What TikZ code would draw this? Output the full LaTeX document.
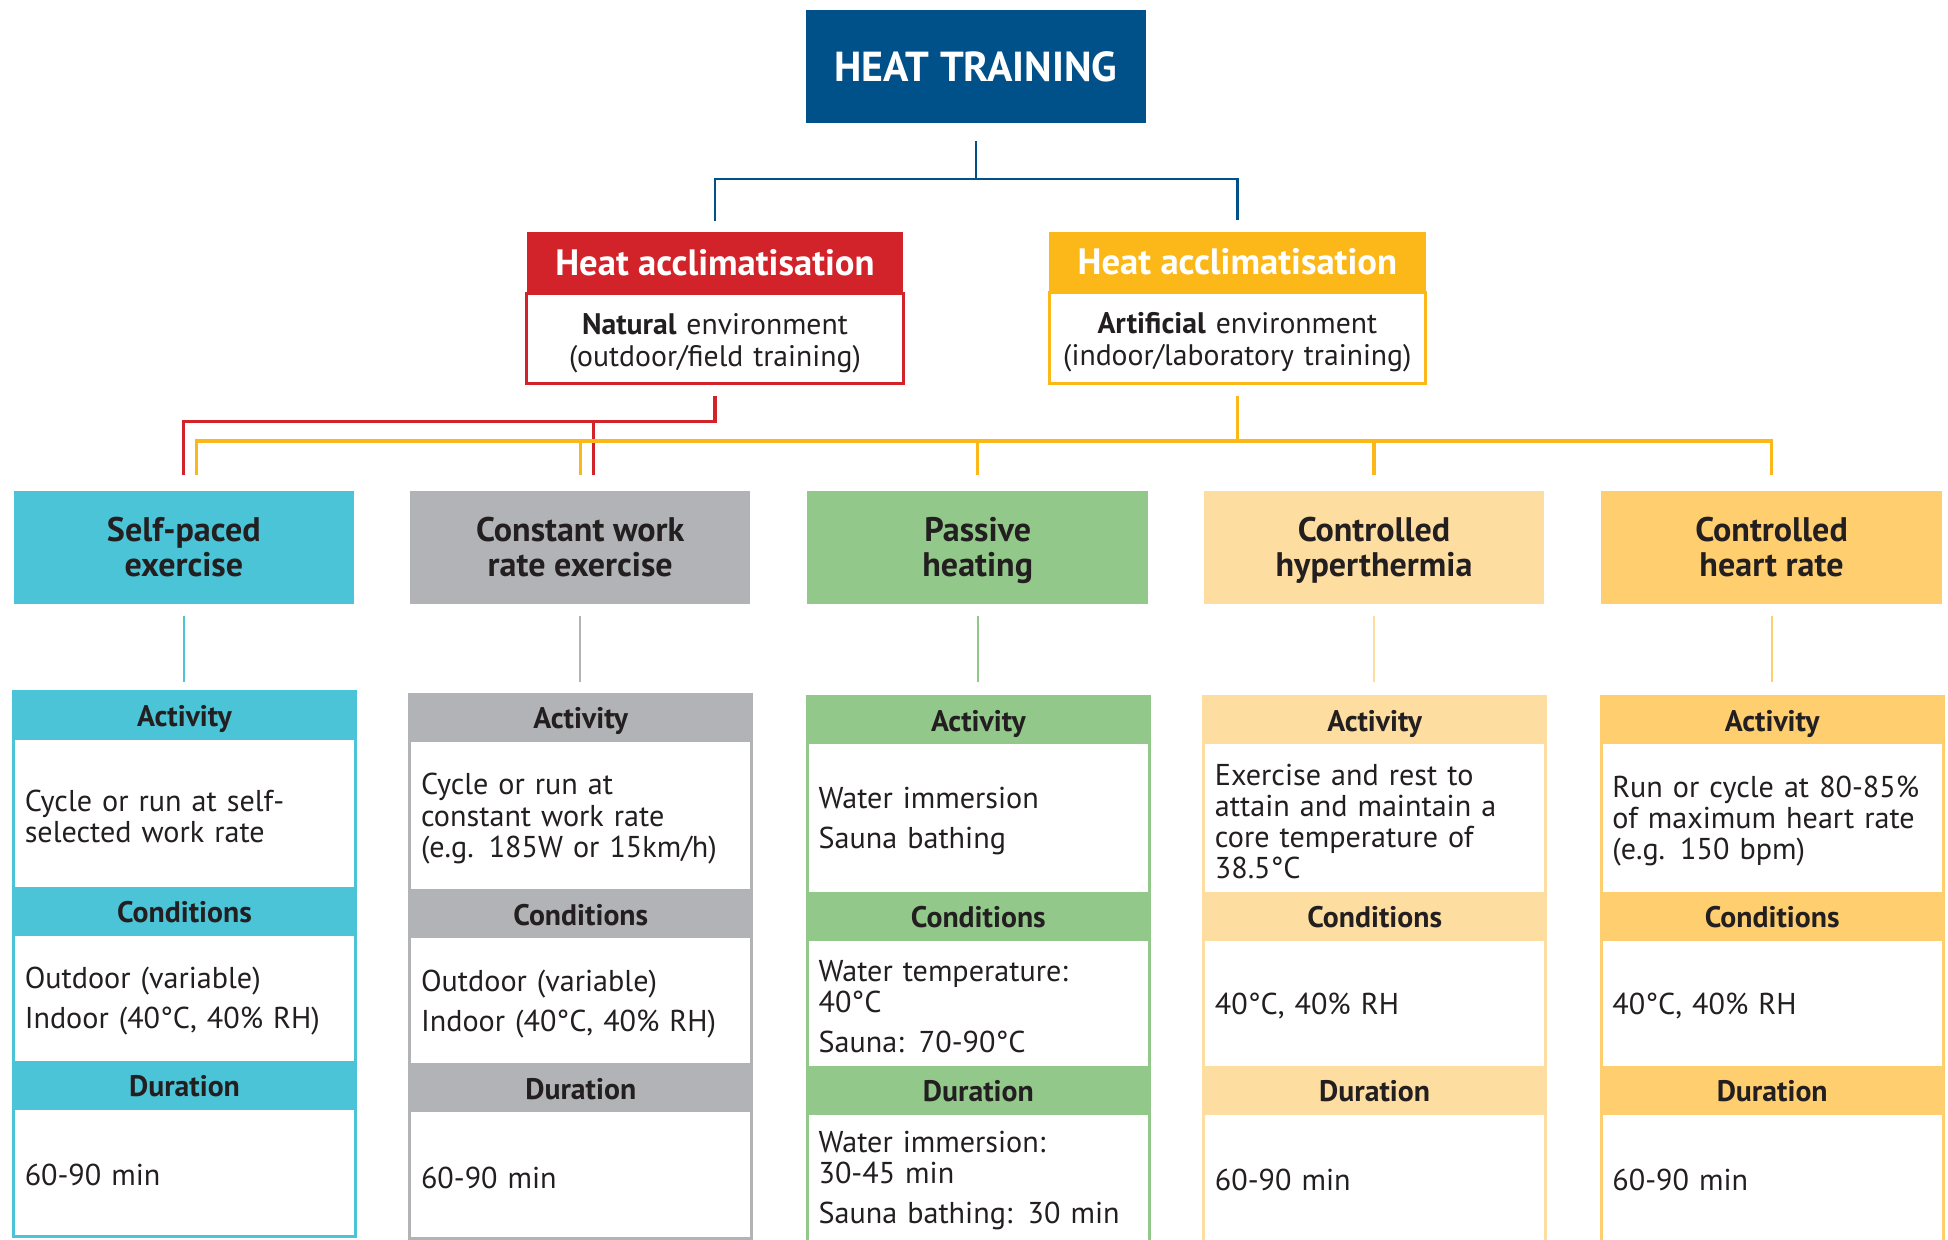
\documentclass[tikz,border=0pt]{standalone}
\usepackage{fontspec}
\setmainfont{PT Sans}
\usetikzlibrary{positioning}
\definecolor{htblue}{HTML}{00518A}
\definecolor{htred}{HTML}{D2232A}
\definecolor{htyellow}{HTML}{FBB818}
\definecolor{htcyan}{HTML}{4BC4D8}
\definecolor{htgray}{HTML}{B2B3B6}
\definecolor{htgreen}{HTML}{93C88B}
\definecolor{htpeach}{HTML}{FDDEA0}
\definecolor{htorange}{HTML}{FECE6F}
\definecolor{httext}{HTML}{231F20}
% one column of Activity / Conditions / Duration
\newcommand\infocol[7]{%
    \node at (#2,#3) [hdr, fill=#4, draw=#4, anchor=north] (#1act) {Activity};
    \node [cell, draw=#4, below=0pt of #1act, minimum height=1.21cm] (#1actb) {#5};
    \node [hdr, fill=#4, draw=#4, below=0pt of #1actb] (#1cond) {Conditions};
    \node [cell, draw=#4, below=0pt of #1cond] (#1condb) {#6};
    \node [hdr, fill=#4, draw=#4, below=0pt of #1condb] (#1dur) {Duration};
    \node [cell, draw=#4, below=0pt of #1dur] (#1durb) {#7};
}

\begin{document}
\begin{tikzpicture}[x=0.01cm, y=-0.01cm, wire/.style={draw=#1, line width=0.025cm}, hdr/.style = {minimum width=2.75cm, minimum height=0.37cm, inner sep=0pt, outer sep=0pt, line width=0.025cm, text height=0.18cm, text depth=0pt, text=httext, font=\fontsize{6.8}{7.4}\selectfont\bfseries}, cell/.style = {fill=white, minimum width=2.75cm, text width=2.57cm, inner xsep=0.09cm, inner ysep=0pt, outer sep=0pt, minimum height=1.03cm, text height=0.22cm, line width=0.025cm, align=left, text=httext, font=\fontsize{6.9}{7.1}\selectfont}, cat/.style = {minimum width=2.74cm, minimum height=0.91cm, inner sep=0pt, align=center, text=httext, font=\fontsize{7.8}{7.97}\selectfont\bfseries}, acc/.style = {minimum width=3.03cm, minimum height=0.49cm, inner sep=0pt, outer sep=0pt, text=white, font=\fontsize{8.4}{9}\selectfont\bfseries}, accb/.style = {fill=white, minimum width=3.03cm, text width=3.03cm, minimum height=0.73cm, inner sep=0pt, outer sep=0pt, text height=0.24cm, line width=0.025cm, align=center, text=httext, font=\fontsize{6.8}{7.4}\selectfont}]
    \useasboundingbox (0,0) rectangle (1568,998);

    \node at (785.5,53.5) [fill=htblue, minimum width=2.73cm, minimum height=0.91cm, inner sep=0pt, text=white, font=\fontsize{9.6}{10}\selectfont\bfseries] (title) {HEAT TRAINING};

    \node at (575.5,211.5) [acc, fill=htred] (nat) {Heat acclimatisation};
    \node [accb, draw=htred, below=0pt of nat] (natb) {{\bfseries Natural} environment\\(outdoor/field training)};
    \node at (996,211) [acc, fill=htyellow] (art) {Heat acclimatisation};
    \node [accb, draw=htyellow, below=0pt of art] (artb) {{\bfseries Artificial} environment\\(indoor/laboratory training)};

    \node at (148,440.5) [cat, fill=htcyan] (self) {Self-paced\\exercise};
    \node at (467,440.5) [cat, fill=htgray] (cons) {Constant work\\rate exercise};
    \node at (787,440.5) [cat, fill=htgreen] (pass) {Passive\\\smash{heating}};
    \node at (1106,440.5) [cat, fill=htpeach] (hyper) {Controlled\\\smash{hyperthermia}};
    \node at (1426,440.5) [cat, fill=htorange] (heart) {Controlled\\heart rate};

    \infocol{sp}{148.5}{557}{htcyan}{Cycle or run at self-\\selected work rate}{Outdoor (variable)\\[0.07cm]Indoor (40°C, 40\% RH)}{60-90 min}
    \infocol{cw}{467.5}{559}{htgray}{Cycle or run at\\constant work rate\\(e.g. 185W or 15km/h)}{Outdoor (variable)\\[0.07cm]Indoor (40°C, 40\% RH)}{60-90 min}
    \infocol{ph}{787.5}{561}{htgreen}{Water immersion\\[0.07cm]Sauna bathing}{Water temperature:\\40°C\\[0.07cm]Sauna: 70-90°C}{Water immersion:\\30-45 min\\[0.07cm]Sauna bathing: 30 min}
    \infocol{ch}{1106.5}{561}{htpeach}{Exercise and rest to\\attain and maintain a\\core temperature of\\38.5°C}{40°C, 40\% RH}{60-90 min}
    \infocol{hr}{1426.5}{561}{htorange}{Run or cycle at 80-85\%\\of maximum heart rate\\(e.g. 150 bpm)}{40°C, 40\% RH}{60-90 min}

    %Top level
    \coordinate (tbar) at (785.5,144);
    \draw[wire=htblue, line width=0.02cm, shorten <=0.14cm] (title.south) -- (tbar);
    \draw[wire=htblue, line width=0.02cm, shorten >=0.09cm] (tbar) -| (nat.north);
    \draw[wire=htblue, line width=0.02cm, shorten >=0.09cm] (tbar) -| (art.north);

    %Natural environment
    \coordinate (rbar) at (478,339);
    \draw[wire=htred, shorten <=0.1cm, shorten >=0.12cm] (natb.south) |- (rbar) -| (self.north);
    \draw[wire=htred, shorten >=0.12cm] (rbar) -- (rbar |- cons.north);

    %Artificial environment
    \coordinate (ybar) at (996,355);
    \draw[wire=htyellow, shorten <=0.1cm] (artb.south) -- (ybar);
    \draw[wire=htyellow, shorten >=0.12cm] (ybar) -| ([xshift=0.1cm]self.north);
    \draw[wire=htyellow, shorten >=0.12cm] (ybar) -| (cons.north);
    \draw[wire=htyellow, shorten >=0.12cm] (ybar) -| (pass.north);
    \draw[wire=htyellow, shorten >=0.12cm] (ybar) -| (hyper.north);
    \draw[wire=htyellow, shorten >=0.12cm] (ybar) -| (heart.north);

    %Columns
    \draw[wire=htcyan, line width=0.015cm, shorten <=0.09cm, shorten >=0.08cm] (self.south) -- (self.south |- spact.north);
    \draw[wire=htgray, line width=0.015cm, shorten <=0.09cm, shorten >=0.1cm] (cons.south) -- (cons.south |- cwact.north);
    \draw[wire=htgreen, line width=0.015cm, shorten <=0.09cm, shorten >=0.12cm] (pass.south) -- (pass.south |- phact.north);
    \draw[wire=htpeach, line width=0.015cm, shorten <=0.09cm, shorten >=0.12cm] (hyper.south) -- (hyper.south |- chact.north);
    \draw[wire=htorange, line width=0.015cm, shorten <=0.09cm, shorten >=0.12cm] (heart.south) -- (heart.south |- hract.north);

\end{tikzpicture}
\end{document}
